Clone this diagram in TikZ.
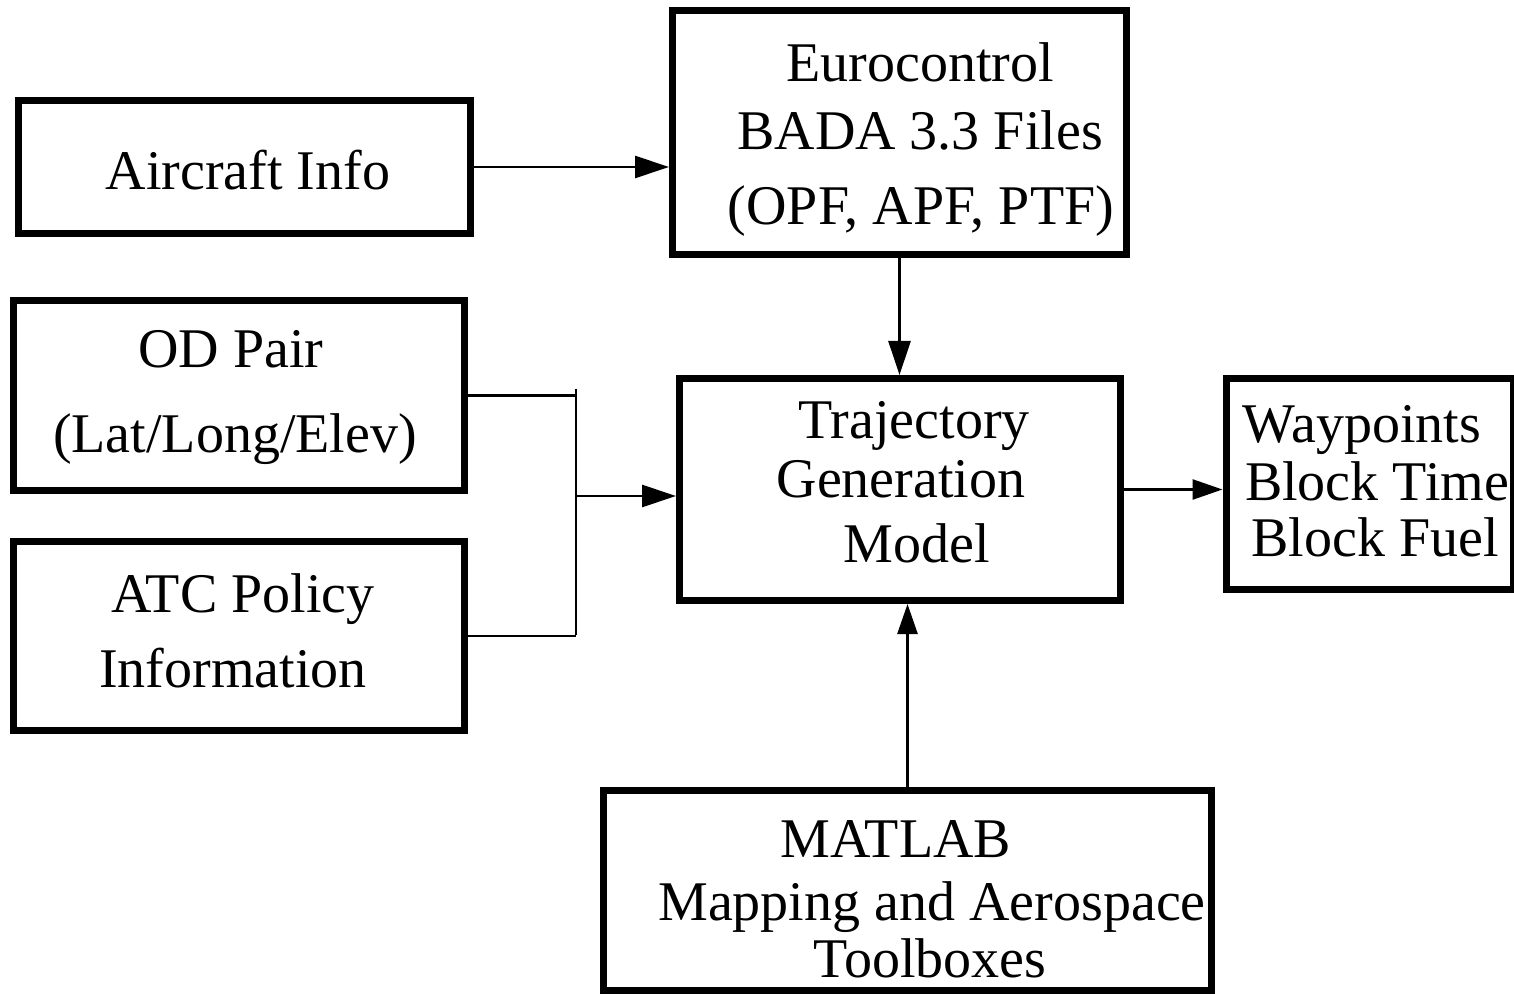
\documentclass[tikz,border=0pt]{standalone}
\usepackage{fontspec}
\setmainfont{Liberation Serif}
\usetikzlibrary{arrows.meta}
\begin{document}
\begin{tikzpicture}[x=0.5pt,y=-0.5pt,
  box/.style={draw,line width=3.5pt,inner sep=0pt,rectangle},
  lbl/.style={anchor=base,inner sep=0pt,font=\fontsize{28pt}{34pt}\selectfont},
  conn/.style={line width=1.3pt},
  arr/.style={conn,-{Triangle[length=17pt,width=11pt]}},
  arrs/.style={conn,-{Triangle[length=15pt,width=10pt]}}]
\useasboundingbox (0,0) rectangle (1514,994);
% boxes
\node[box,minimum width=226pt,minimum height=66.5pt] (air) at (244.5,167) {};
\node[box,minimum width=227pt,minimum height=122pt] (euro) at (899.5,132.5) {};
\node[box,minimum width=225.5pt,minimum height=95pt] (od) at (239,395.5) {};
\node[box,minimum width=225.5pt,minimum height=94.5pt] (atc) at (239,636) {};
\node[box,minimum width=220.5pt,minimum height=111pt] (traj) at (900,489.5) {};
\node[box,minimum width=143.5pt,minimum height=105.5pt] (way) at (1369.5,484) {};
\node[box,minimum width=304pt,minimum height=100pt] (mat) at (907.5,890.5) {};
% texts
\node[lbl] (airA) at (248,190) {Aircraft Info};
\node[lbl] (euroA) at (920,82) {Eurocontrol};
\node[lbl] (euroB) at (920,150) {BADA 3.3 Files};
\node[lbl] (euroC) at (921,225) {(OPF, APF, PTF)};
\node[lbl] (odA) at (231,368) {OD Pair};
\node[lbl] (odB) at (235,452) {(Lat/Long/Elev)};
\node[lbl] (atcA) at (243,612) {ATC Policy};
\node[lbl] (atcB) at (233,687) {Information};
\node[lbl] (trajA) at (914,438) {Trajectory};
\node[lbl] (trajB) at (901,497) {Generation};
\node[lbl] (trajC) at (917,562) {Model};
\node[lbl] (wayA) at (1362,442) {Waypoints};
\node[lbl] (wayB) at (1377,500) {Block Time};
\node[lbl] (wayC) at (1375,556) {Block Fuel};
\node[lbl] (matA) at (896,857) {MATLAB};
\node[lbl] (matB) at (932,920) {Mapping and Aerospace};
\node[lbl] (matC) at (930,977) {Toolboxes};
% connectors
\coordinate (jt) at (576,389);
\coordinate (jb) at (576,635);
\coordinate (jm) at (576,496);
\draw[arr] (air.east) -- (air.east -| euro.west);
\draw[arr] (euro.south) -- (euro.south |- traj.north);
\draw[conn] (od.east) -- (od.east -| jm);
\draw[conn] (atc.east) -- (atc.east -| jm);
\draw[conn] (jt) -- (jb);
\draw[arr] (jm) -- (jm -| traj.west);
\draw[arrs] (traj.east) -- (traj.east -| way.west);
\draw[arrs] (mat.north) -- (mat.north |- traj.south);
\end{tikzpicture}
\end{document}
